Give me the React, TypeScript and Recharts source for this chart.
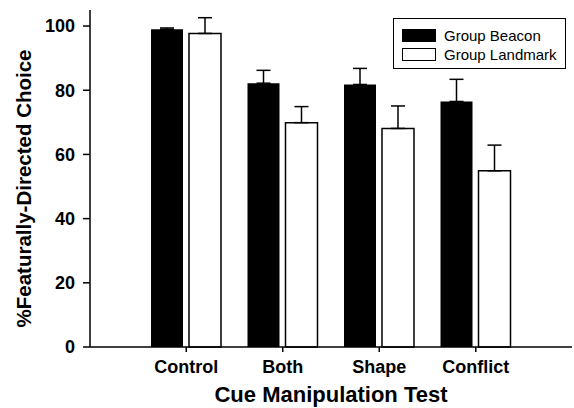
import { BarChart, Bar, XAxis, YAxis, ErrorBar } from 'recharts'

const tests = ['Control', 'Both', 'Shape', 'Conflict']
const beaconValues = [99.0, 82.2, 81.8, 76.5]
const beaconErrors = [0.4, 4.0, 5.0, 6.9]
const landmarkValues = [97.7, 69.9, 68.1, 54.9]
const landmarkErrors = [4.9, 5.0, 7.0, 8.0]
const yTicks = [0, 20, 40, 60, 80, 100]

const data = tests.map((name, i) => ({
  name,
  beacon: beaconValues[i],
  beaconErr: [0, beaconErrors[i]],
  landmark: landmarkValues[i],
  landmarkErr: [0, landmarkErrors[i]],
}))

const FONT = 'Arial, "Liberation Sans", Helvetica, sans-serif'

// rotated axis title, drawn by hand so it can sit a little below centre
const YLabel = ({ viewBox }: any) => {
  const cy = viewBox.y + viewBox.height / 2 + 10
  return (
    <text
      x={23}
      y={cy}
      transform={`rotate(-90, 23, ${cy})`}
      textAnchor="middle"
      dominantBaseline="central"
      fontFamily={FONT}
      fontWeight="bold"
      fontSize={20.5}
      fill="#000"
    >
      %Featurally-Directed Choice
    </text>
  )
}

const XLabel = ({ viewBox }: any) => (
  <text
    x={viewBox.x + viewBox.width / 2}
    y={402}
    textAnchor="middle"
    fontFamily={FONT}
    fontWeight="bold"
    fontSize={22}
    fill="#000"
  >
    Cue Manipulation Test
  </text>
)

function LegendBox() {
  const row = (fill: string, label: string) => (
    <div style={{ display: 'flex', alignItems: 'center', height: 19 }}>
      <div
        style={{
          width: 32,
          height: 11,
          background: fill,
          border: '1.5px solid #000',
          marginRight: 8,
        }}
      />
      <span>{label}</span>
    </div>
  )
  return (
    <div
      style={{
        position: 'absolute',
        left: 393,
        top: 18,
        width: 173,
        height: 51,
        border: '1.5px solid #000',
        fontFamily: FONT,
        fontSize: 15,
        color: '#000',
        padding: '7px 0 0 8px',
        boxSizing: 'border-box',
        lineHeight: '19px',
        background: '#fff',
      }}
    >
      {row('#000', 'Group Beacon')}
      {row('#fff', 'Group Landmark')}
    </div>
  )
}

export default function App() {
  const tickStyle = { fill: '#000', fontSize: 18, fontWeight: 'bold', fontFamily: FONT }
  return (
    <div style={{ position: 'absolute', left: 0, top: 0, width: 574, height: 408, background: '#fff' }}>
      <BarChart
        width={574}
        height={408}
        data={data}
        margin={{ top: 10, right: 2, left: 0, bottom: 0 }}
        barGap={6}
      >
        <XAxis
          dataKey="name"
          height={61}
          padding={{ left: 48, right: 48 }}
          tick={tickStyle}
          tickSize={5}
          tickMargin={8}
          axisLine={{ stroke: '#000', strokeWidth: 1.5 }}
          tickLine={{ stroke: '#000', strokeWidth: 1.5 }}
          label={<XLabel />}
        />
        <XAxis
          xAxisId="top"
          dataKey="name"
          orientation="top"
          height={0}
          tick={false}
          tickLine={false}
          axisLine={{ stroke: '#000', strokeWidth: 1.5 }}
        />
        <YAxis
          width={90}
          domain={[0, 105]}
          ticks={yTicks}
          tick={tickStyle}
          tickSize={7}
          tickMargin={8}
          axisLine={{ stroke: '#000', strokeWidth: 1.5 }}
          tickLine={{ stroke: '#000', strokeWidth: 1.5 }}
          label={<YLabel />}
        />
        <YAxis
          yAxisId="right"
          orientation="right"
          width={0}
          domain={[0, 105]}
          tick={false}
          tickLine={false}
          axisLine={{ stroke: '#000', strokeWidth: 1.5 }}
        />
        <Bar dataKey="beacon" name="Group Beacon" fill="#000" barSize={32} isAnimationActive={false}>
          <ErrorBar dataKey="beaconErr" width={7} stroke="#000" strokeWidth={1.5} direction="y" />
        </Bar>
        <Bar
          dataKey="landmark"
          name="Group Landmark"
          fill="#fff"
          stroke="#000"
          strokeWidth={1.5}
          barSize={32}
          isAnimationActive={false}
        >
          <ErrorBar dataKey="landmarkErr" width={7} stroke="#000" strokeWidth={1.5} direction="y" />
        </Bar>
      </BarChart>
      <LegendBox />
    </div>
  )
}
